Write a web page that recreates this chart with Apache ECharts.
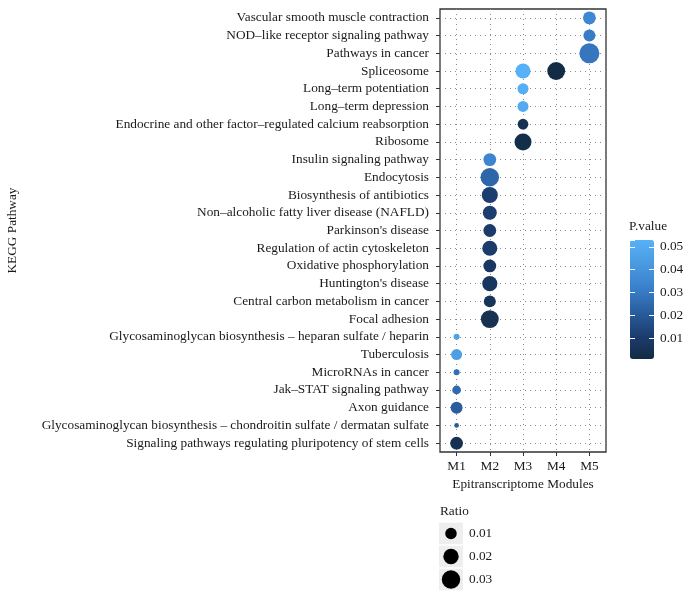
<!DOCTYPE html>
<html>
<head>
<meta charset="utf-8">
<script src="https://cdn.jsdelivr.net/npm/echarts@6/dist/echarts.min.js"></script>
<style>html,body{margin:0;padding:0;background:#fff;}#c{width:690px;height:601px;}</style>
</head>
<body>
<div id="c"></div>
<script>
// Categories (top to bottom)
var pathways = [
  'Vascular smooth muscle contraction',
  'NOD–like receptor signaling pathway',
  'Pathways in cancer',
  'Spliceosome',
  'Long–term potentiation',
  'Long–term depression',
  'Endocrine and other factor–regulated calcium reabsorption',
  'Ribosome',
  'Insulin signaling pathway',
  'Endocytosis',
  'Biosynthesis of antibiotics',
  'Non–alcoholic fatty liver disease (NAFLD)',
  "Parkinson's disease",
  'Regulation of actin cytoskeleton',
  'Oxidative phosphorylation',
  "Huntington's disease",
  'Central carbon metabolism in cancer',
  'Focal adhesion',
  'Glycosaminoglycan biosynthesis – heparan sulfate / heparin',
  'Tuberculosis',
  'MicroRNAs in cancer',
  'Jak–STAT signaling pathway',
  'Axon guidance',
  'Glycosaminoglycan biosynthesis – chondroitin sulfate / dermatan sulfate',
  'Signaling pathways regulating pluripotency of stem cells'
];
var modules = ['M1', 'M2', 'M3', 'M4', 'M5'];

// Points
var pointPathway = [
  'Vascular smooth muscle contraction',
  'NOD–like receptor signaling pathway',
  'Pathways in cancer',
  'Spliceosome',
  'Spliceosome',
  'Long–term potentiation',
  'Long–term depression',
  'Endocrine and other factor–regulated calcium reabsorption',
  'Ribosome',
  'Insulin signaling pathway',
  'Endocytosis',
  'Biosynthesis of antibiotics',
  'Non–alcoholic fatty liver disease (NAFLD)',
  "Parkinson's disease",
  'Regulation of actin cytoskeleton',
  'Oxidative phosphorylation',
  "Huntington's disease",
  'Central carbon metabolism in cancer',
  'Focal adhesion',
  'Glycosaminoglycan biosynthesis – heparan sulfate / heparin',
  'Tuberculosis',
  'MicroRNAs in cancer',
  'Jak–STAT signaling pathway',
  'Axon guidance',
  'Glycosaminoglycan biosynthesis – chondroitin sulfate / dermatan sulfate',
  'Signaling pathways regulating pluripotency of stem cells'
];
var pointModule = ['M5','M5','M5','M3','M4','M3','M3','M3','M3','M2','M2','M2','M2','M2','M2','M2','M2','M2','M2','M1','M1','M1','M1','M1','M1','M1'];
var pointRatio  = [0.013,0.011,0.036,0.019,0.028,0.009,0.009,0.0084,0.025,0.013,0.030,0.022,0.016,0.013,0.019,0.013,0.019,0.011,0.028,0.0018,0.009,0.0018,0.005,0.011,0.0008,0.0127];
var pointPValue = [0.035,0.031,0.029,0.053,0.001,0.052,0.050,0.004,0.002,0.034,0.024,0.011,0.011,0.010,0.010,0.008,0.007,0.006,0.004,0.046,0.045,0.027,0.025,0.021,0.020,0.004];

// Legend values
var sizeLegendValues = [0.01, 0.02, 0.03];
var sizeLegendLabels = ['0.01', '0.02', '0.03'];
var pMin = 0.0008, pMax = 0.053;

function sizeOf(r) { return 2 + 95 * Math.sqrt(r); }

var FONT = 'Liberation Serif';
var FS = 13.3;
var data = pointPathway.map(function (p, i) {
  return [pointModule[i], p, pointRatio[i], pointPValue[i]];
});

var chart = echarts.init(document.getElementById('c'), null, { renderer: 'canvas' });
var gridLine = { type: [1, 4], color: '#8a8a8a', width: 1 };
var option = {
  animation: false,
  backgroundColor: '#fff',
  textStyle: { fontFamily: FONT },
  title: [
    { text: 'P.value', left: 629, top: 220, padding: 0, textStyle: { fontFamily: FONT, fontSize: FS, fontWeight: 'normal', color: '#1a1a1a' } },
    { text: 'Ratio', left: 440, top: 505, padding: 0, textStyle: { fontFamily: FONT, fontSize: FS, fontWeight: 'normal', color: '#1a1a1a' } }
  ],
  grid: [
    { left: 440, top: 9, width: 166, height: 443, show: true, borderColor: '#333', borderWidth: 1.3, backgroundColor: '#fff' },
    { left: 630, top: 240, width: 24, height: 119 },
    { left: 439, top: 522, width: 24, height: 69, show: true, backgroundColor: '#eeeeee', borderWidth: 0 }
  ],
  xAxis: [
    {
      gridIndex: 0, type: 'category', data: modules, boundaryGap: true,
      axisLine: { show: false },
      axisTick: { show: true, alignWithLabel: true, length: 4, lineStyle: { color: '#333' } },
      axisLabel: { fontFamily: FONT, fontSize: FS, color: '#1a1a1a', margin: 8 },
      splitLine: { show: false },
      name: 'Epitranscriptome Modules', nameLocation: 'middle', nameGap: 25,
      nameTextStyle: { fontFamily: FONT, fontSize: FS, color: '#1a1a1a' }
    },
    { gridIndex: 1, type: 'value', show: false, min: 0, max: 1 },
    { gridIndex: 2, type: 'value', show: false, min: 0, max: 2 }
  ],
  yAxis: [
    {
      gridIndex: 0, type: 'category', data: pathways, inverse: true, boundaryGap: true,
      axisLine: { show: false },
      axisTick: { show: true, alignWithLabel: true, length: 4, lineStyle: { color: '#333' } },
      axisLabel: { fontFamily: FONT, fontSize: FS, color: '#1a1a1a', margin: 11, interval: 0 },
      splitLine: { show: false },
      name: 'KEGG Pathway', nameLocation: 'middle', nameRotate: 90, nameGap: 421,
      nameTextStyle: { fontFamily: FONT, fontSize: FS, color: '#1a1a1a' }
    },
    {
      gridIndex: 1, type: 'value', min: pMin, max: pMax, position: 'left', z: 10,
      axisLine: { show: false }, axisLabel: { show: false }, splitLine: { show: false },
      axisTick: { show: true, inside: true, length: 5, lineStyle: { color: '#fff', width: 1 } }
    },
    {
      gridIndex: 1, type: 'value', min: pMin, max: pMax, position: 'right', z: 10,
      axisLine: { show: false }, splitLine: { show: false },
      axisTick: { show: true, inside: true, length: 5, lineStyle: { color: '#fff', width: 1 } },
      axisLabel: {
        show: true, showMinLabel: false, showMaxLabel: false, margin: 6,
        fontFamily: FONT, fontSize: FS, color: '#1a1a1a',
        formatter: function (v) { return v.toFixed(2); }
      }
    },
    {
      gridIndex: 2, type: 'category', data: sizeLegendLabels, inverse: true, position: 'right',
      axisLine: { show: false }, axisTick: { show: false },
      axisLabel: { fontFamily: FONT, fontSize: FS, color: '#1a1a1a', margin: 6 },
      splitLine: { show: true, lineStyle: { color: '#fff', width: 1.5 } }
    }
  ],
  visualMap: {
    type: 'continuous', seriesIndex: 1, dimension: 3,
    min: pMin, max: pMax, calculable: false, realtime: false,
    left: 630, top: 240, padding: 0, itemWidth: 24, itemHeight: 119,
    orient: 'vertical', text: null, showLabel: false,
    inRange: { color: ['#132B43', '#1c3d70', '#2a5fa0', '#3a80cc', '#4a9ae0', '#56B1F7'] }
  },
  series: [
    {
      type: 'scatter', xAxisIndex: 0, yAxisIndex: 0, data: [], z: 1, silent: true,
      markLine: {
        z: 1, silent: true, symbol: ['none', 'none'], label: { show: false }, animation: false,
        lineStyle: gridLine,
        data: modules.map(function (m) { return { xAxis: m }; })
          .concat(pathways.map(function (p) { return { yAxis: p }; }))
      }
    },
    {
      type: 'scatter', xAxisIndex: 0, yAxisIndex: 0, z: 3, data: data,
      symbolSize: function (v) { return sizeOf(v[2]); },
      itemStyle: { opacity: 1 }
    },
    {
      type: 'scatter', xAxisIndex: 2, yAxisIndex: 3, z: 3,
      data: sizeLegendValues.map(function (v, i) { return [1, sizeLegendLabels[i], v]; }),
      symbolSize: function (v) { return sizeOf(v[2]); },
      itemStyle: { color: '#000', opacity: 1 }
    }
  ]
};
chart.setOption(option);
</script>
</body>
</html>
